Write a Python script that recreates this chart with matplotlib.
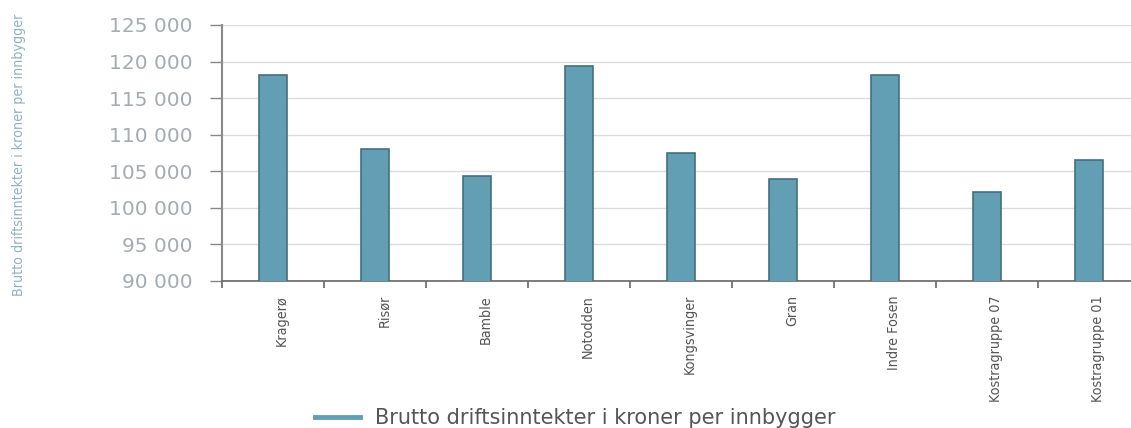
import matplotlib
matplotlib.use("Agg")
import matplotlib.pyplot as plt
import matplotlib.transforms as mtransforms
from matplotlib import font_manager
from matplotlib.lines import Line2D

kommuner = ["Kragerø", "Risør", "Bamble", "Notodden", "Kongsvinger", "Gran",
            "Indre Fosen", "Kostragruppe 07", "Kostragruppe 01"]
inntekter = [118100, 108100, 104400, 119400, 107500, 104000, 118100, 102100, 106600]
y_ticks = [90000, 95000, 100000, 105000, 110000, 115000, 120000, 125000]
serie_navn = "Brutto driftsinntekter i kroner per innbygger"

# smal skrift for rotert tekst, hvis den finnes
fonts = [(f.name, f.stretch) for f in font_manager.fontManager.ttflist]
has_cond = any(n == "DejaVu Sans" and s == "condensed" for n, s in fonts)
narrow = dict(family="DejaVu Sans", fontstretch="condensed") if has_cond else dict(family="DejaVu Sans")

bar_color = "#629fb4"
edge_color = "#44707f"

fig = plt.figure(figsize=(11.31, 4.28), dpi=100)
ax = fig.add_axes([222 / 1131, 1 - 281 / 428, 918 / 1131, 256 / 428])

x = list(range(len(kommuner)))
ax.bar(x, inntekter, width=0.28, color=bar_color, edgecolor=edge_color, linewidth=1.2, zorder=3)

ax.set_xlim(-0.5, len(kommuner) - 0.5)
ax.set_ylim(90000, 125000)
ax.set_yticks(y_ticks)
ax.set_yticklabels([f"{v:,}".replace(",", " ") for v in y_ticks])
ax.grid(axis="y", color="#dcdcdc", linewidth=1, zorder=0)

ax.set_xticks(x)
ax.set_xticklabels(kommuner, rotation=90, fontsize=10.3, color="#555555", va="top", ha="center", **narrow)
ax.set_xticks([i - 0.5 for i in range(len(kommuner) + 1)], minor=True)
ax.tick_params(axis="x", which="major", length=0, pad=10)
ax.tick_params(axis="x", which="minor", length=5, width=1.2, color="#666666")
ax.tick_params(axis="y", length=9, width=1, color="#888888", pad=12, labelsize=14.5, labelcolor="#a3acb0")

offset = mtransforms.ScaledTranslation(9 / 100, 0, fig.dpi_scale_trans)
for lbl in ax.get_xticklabels():
    lbl.set_transform(lbl.get_transform() + offset)

for side in ["top", "right"]:
    ax.spines[side].set_visible(False)
ax.spines["left"].set_color("#8a8a8a")
ax.spines["left"].set_linewidth(1.5)
ax.spines["bottom"].set_color("#666666")
ax.spines["bottom"].set_linewidth(1.2)

fig.text(19 / 1131, 1 - 155 / 428, serie_navn, rotation=90, fontsize=10.2 if has_cond else 9.5,
         color="#8fb2bf", ha="center", va="center", **narrow)

handle = Line2D([], [], color=bar_color, linewidth=3.5)
fig.legend([handle], [serie_navn], loc="center", bbox_to_anchor=(575 / 1131, 1 - 418 / 428),
           frameon=False, fontsize=15, labelcolor="#555555", handlelength=2.2, handletextpad=0.7)

fig.savefig("out.png", dpi=100)
